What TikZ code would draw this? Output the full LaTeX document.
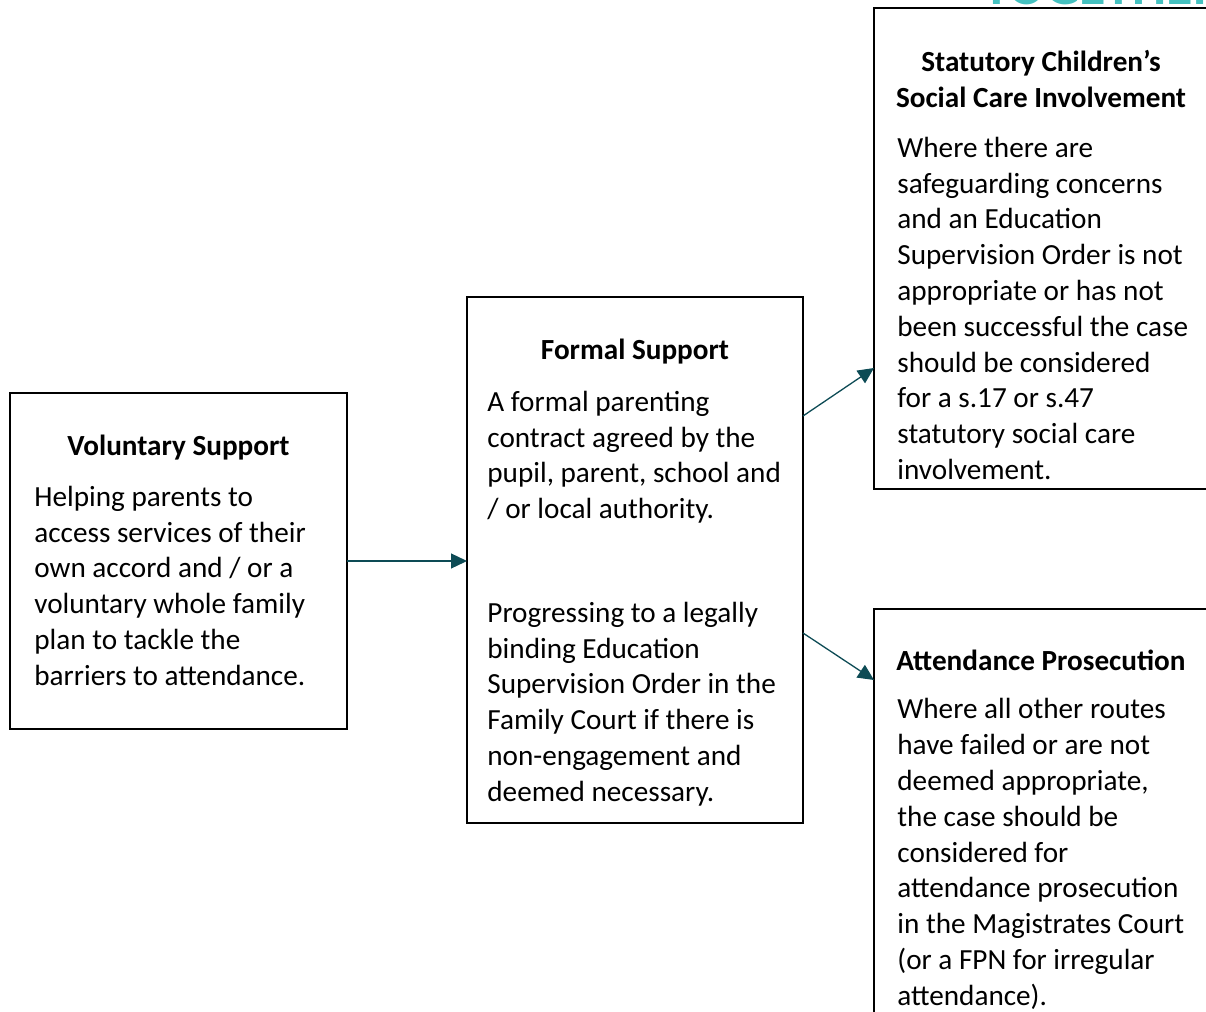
\documentclass[tikz,border=0pt]{standalone}
\usepackage{fontspec}
\setmainfont{Carlito}
\usetikzlibrary{positioning,calc,arrows.meta}
\definecolor{arrowteal}{HTML}{0D4B55}
\definecolor{logoteal}{HTML}{45C1C0}
\tikzset{
	box/.style={draw, line width=1pt, inner sep=0pt, outer sep=0pt},
	heading/.style={font=\fontsize{14.6}{17.9}\selectfont\bfseries, inner sep=0pt, align=center},
	bodytext/.style={font=\fontsize{14.6}{17.9}\selectfont, inner sep=0pt, align=left, anchor=north west},
}
\newcommand{\relation}[3][]
{
	% teal arrow from box to box
	\path [draw=arrowteal, line width=0.65pt, -{Triangle[length=8pt,width=7.5pt]}, #1] (#2) -- (#3);
}
\newcommand{\mybox}[5][]{
	\pgfmathsetmacro{\boxw}{(#4-#2)/2}
	\pgfmathsetmacro{\boxh}{(#5-#3)/2}
	\node [box, minimum width=\boxw pt, minimum height=\boxh pt] (#1) at ({(#2+#4)/2}, {(#3+#5)/2}) {};
}

\begin{document}
\begin{tikzpicture}[x=0.5pt, y=-0.5pt]
	\useasboundingbox (0,0) rectangle (1206,1012);
	\clip (0,0) rectangle (1206,1012);
	\mybox[voluntary]{10}{393}{347}{729}
	\mybox[formal]{467}{297}{803}{823}
	\mybox[statutory]{874}{8}{1208}{489}
	\mybox[prosecution]{874}{609}{1208}{1040}
	% logo text cut off at the top
	\node [anchor=base west, inner sep=0pt, text=logoteal, font=\fontsize{27}{30}\selectfont\bfseries] (logo) at (983, 4.5) {TOGETHER};
	\node [heading, anchor=base] (volhead) at (178.5, 455) {Voluntary Support};
	\node [bodytext] (voltext) at (34, 480.9) {\strut Helping parents to\\access services of their\\own accord and / or a\\voluntary whole family\\plan to tackle the\\barriers to attendance.};
	\node [heading, anchor=base] (formhead) at (635, 359) {Formal Support};
	\node [bodytext] (formtext) at (487, 385.9) {\strut A formal parenting\\contract agreed by the\\pupil, parent, school and\\/ or local authority.};
	\node [bodytext] (formorder) at (487, 596.9) {\strut Progressing to a legally\\binding Education\\Supervision Order in the\\Family Court if there is\\non-engagement and\\deemed necessary.};
	\node [heading, anchor=north] (stathead) at (1041, 45.9) {\strut Statutory Children’s\\Social Care Involvement};
	\node [bodytext] (stattext) at (897, 131.9) {\strut Where there are\\safeguarding concerns\\and an Education\\Supervision Order is not\\appropriate or has not\\been successful the case\\should be considered\\for a s.17 or s.47\\statutory social care\\involvement.};
	\node [heading, anchor=base] (proshead) at (1041, 670) {Attendance Prosecution};
	\node [bodytext] (prostext) at (897, 693.4) {\strut Where all other routes\\have failed or are not\\deemed appropriate,\\the case should be\\considered for\\attendance prosecution\\in the Magistrates Court\\(or a FPN for irregular\\attendance).};
	\relation{voluntary.east}{voluntary.east -| formal.west}
	\relation{$(formal.north east)+(0,119)$}{$(statutory.north west)+(0,360)$}
	\relation{$(formal.north east)+(0,336)$}{$(prosecution.north west)+(0,71)$}
\end{tikzpicture}
\end{document}
